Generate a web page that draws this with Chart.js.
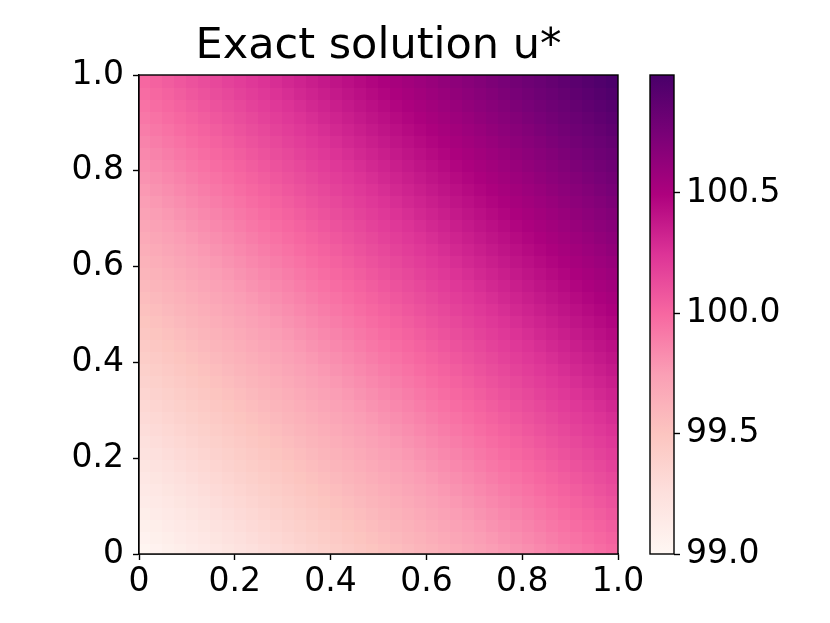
<!DOCTYPE html>
<html><head><meta charset="utf-8">
<script src="https://cdn.jsdelivr.net/npm/chart.js@4/dist/chart.umd.min.js"></script>
<style>html,body{margin:0;padding:0;background:#fff;}#wrap{width:830px;height:623px;position:relative;}</style>
</head><body><div id="wrap"><canvas id="c" width="830" height="623"></canvas></div>
<script>
const titleText = 'Exact solution u*';
const xCenters = [0.0125,0.0375,0.0625,0.0875,0.1125,0.1375,0.1625,0.1875,0.2125,0.2375,0.2625,0.2875,0.3125,0.3375,0.3625,0.3875,0.4125,0.4375,0.4625,0.4875,0.5125,0.5375,0.5625,0.5875,0.6125,0.6375,0.6625,0.6875,0.7125,0.7375,0.7625,0.7875,0.8125,0.8375,0.8625,0.8875,0.9125,0.9375,0.9625,0.9875];
const yCenters = [0.0125,0.0375,0.0625,0.0875,0.1125,0.1375,0.1625,0.1875,0.2125,0.2375,0.2625,0.2875,0.3125,0.3375,0.3625,0.3875,0.4125,0.4375,0.4625,0.4875,0.5125,0.5375,0.5625,0.5875,0.6125,0.6375,0.6625,0.6875,0.7125,0.7375,0.7625,0.7875,0.8125,0.8375,0.8625,0.8875,0.9125,0.9375,0.9625,0.9875];
// rows from bottom (y=0) to top (y=1); columns from x=0 to x=1
const uValues = [
[99.025,99.050,99.075,99.100,99.125,99.150,99.175,99.200,99.225,99.250,99.275,99.300,99.325,99.350,99.375,99.400,99.425,99.450,99.475,99.500,99.525,99.550,99.575,99.600,99.625,99.650,99.675,99.700,99.725,99.750,99.775,99.800,99.825,99.850,99.875,99.900,99.925,99.950,99.975,100.000],
[99.050,99.075,99.100,99.125,99.150,99.175,99.200,99.225,99.250,99.275,99.300,99.325,99.350,99.375,99.400,99.425,99.450,99.475,99.500,99.525,99.550,99.575,99.600,99.625,99.650,99.675,99.700,99.725,99.750,99.775,99.800,99.825,99.850,99.875,99.900,99.925,99.950,99.975,100.000,100.025],
[99.075,99.100,99.125,99.150,99.175,99.200,99.225,99.250,99.275,99.300,99.325,99.350,99.375,99.400,99.425,99.450,99.475,99.500,99.525,99.550,99.575,99.600,99.625,99.650,99.675,99.700,99.725,99.750,99.775,99.800,99.825,99.850,99.875,99.900,99.925,99.950,99.975,100.000,100.025,100.050],
[99.100,99.125,99.150,99.175,99.200,99.225,99.250,99.275,99.300,99.325,99.350,99.375,99.400,99.425,99.450,99.475,99.500,99.525,99.550,99.575,99.600,99.625,99.650,99.675,99.700,99.725,99.750,99.775,99.800,99.825,99.850,99.875,99.900,99.925,99.950,99.975,100.000,100.025,100.050,100.075],
[99.125,99.150,99.175,99.200,99.225,99.250,99.275,99.300,99.325,99.350,99.375,99.400,99.425,99.450,99.475,99.500,99.525,99.550,99.575,99.600,99.625,99.650,99.675,99.700,99.725,99.750,99.775,99.800,99.825,99.850,99.875,99.900,99.925,99.950,99.975,100.000,100.025,100.050,100.075,100.100],
[99.150,99.175,99.200,99.225,99.250,99.275,99.300,99.325,99.350,99.375,99.400,99.425,99.450,99.475,99.500,99.525,99.550,99.575,99.600,99.625,99.650,99.675,99.700,99.725,99.750,99.775,99.800,99.825,99.850,99.875,99.900,99.925,99.950,99.975,100.000,100.025,100.050,100.075,100.100,100.125],
[99.175,99.200,99.225,99.250,99.275,99.300,99.325,99.350,99.375,99.400,99.425,99.450,99.475,99.500,99.525,99.550,99.575,99.600,99.625,99.650,99.675,99.700,99.725,99.750,99.775,99.800,99.825,99.850,99.875,99.900,99.925,99.950,99.975,100.000,100.025,100.050,100.075,100.100,100.125,100.150],
[99.200,99.225,99.250,99.275,99.300,99.325,99.350,99.375,99.400,99.425,99.450,99.475,99.500,99.525,99.550,99.575,99.600,99.625,99.650,99.675,99.700,99.725,99.750,99.775,99.800,99.825,99.850,99.875,99.900,99.925,99.950,99.975,100.000,100.025,100.050,100.075,100.100,100.125,100.150,100.175],
[99.225,99.250,99.275,99.300,99.325,99.350,99.375,99.400,99.425,99.450,99.475,99.500,99.525,99.550,99.575,99.600,99.625,99.650,99.675,99.700,99.725,99.750,99.775,99.800,99.825,99.850,99.875,99.900,99.925,99.950,99.975,100.000,100.025,100.050,100.075,100.100,100.125,100.150,100.175,100.200],
[99.250,99.275,99.300,99.325,99.350,99.375,99.400,99.425,99.450,99.475,99.500,99.525,99.550,99.575,99.600,99.625,99.650,99.675,99.700,99.725,99.750,99.775,99.800,99.825,99.850,99.875,99.900,99.925,99.950,99.975,100.000,100.025,100.050,100.075,100.100,100.125,100.150,100.175,100.200,100.225],
[99.275,99.300,99.325,99.350,99.375,99.400,99.425,99.450,99.475,99.500,99.525,99.550,99.575,99.600,99.625,99.650,99.675,99.700,99.725,99.750,99.775,99.800,99.825,99.850,99.875,99.900,99.925,99.950,99.975,100.000,100.025,100.050,100.075,100.100,100.125,100.150,100.175,100.200,100.225,100.250],
[99.300,99.325,99.350,99.375,99.400,99.425,99.450,99.475,99.500,99.525,99.550,99.575,99.600,99.625,99.650,99.675,99.700,99.725,99.750,99.775,99.800,99.825,99.850,99.875,99.900,99.925,99.950,99.975,100.000,100.025,100.050,100.075,100.100,100.125,100.150,100.175,100.200,100.225,100.250,100.275],
[99.325,99.350,99.375,99.400,99.425,99.450,99.475,99.500,99.525,99.550,99.575,99.600,99.625,99.650,99.675,99.700,99.725,99.750,99.775,99.800,99.825,99.850,99.875,99.900,99.925,99.950,99.975,100.000,100.025,100.050,100.075,100.100,100.125,100.150,100.175,100.200,100.225,100.250,100.275,100.300],
[99.350,99.375,99.400,99.425,99.450,99.475,99.500,99.525,99.550,99.575,99.600,99.625,99.650,99.675,99.700,99.725,99.750,99.775,99.800,99.825,99.850,99.875,99.900,99.925,99.950,99.975,100.000,100.025,100.050,100.075,100.100,100.125,100.150,100.175,100.200,100.225,100.250,100.275,100.300,100.325],
[99.375,99.400,99.425,99.450,99.475,99.500,99.525,99.550,99.575,99.600,99.625,99.650,99.675,99.700,99.725,99.750,99.775,99.800,99.825,99.850,99.875,99.900,99.925,99.950,99.975,100.000,100.025,100.050,100.075,100.100,100.125,100.150,100.175,100.200,100.225,100.250,100.275,100.300,100.325,100.350],
[99.400,99.425,99.450,99.475,99.500,99.525,99.550,99.575,99.600,99.625,99.650,99.675,99.700,99.725,99.750,99.775,99.800,99.825,99.850,99.875,99.900,99.925,99.950,99.975,100.000,100.025,100.050,100.075,100.100,100.125,100.150,100.175,100.200,100.225,100.250,100.275,100.300,100.325,100.350,100.375],
[99.425,99.450,99.475,99.500,99.525,99.550,99.575,99.600,99.625,99.650,99.675,99.700,99.725,99.750,99.775,99.800,99.825,99.850,99.875,99.900,99.925,99.950,99.975,100.000,100.025,100.050,100.075,100.100,100.125,100.150,100.175,100.200,100.225,100.250,100.275,100.300,100.325,100.350,100.375,100.400],
[99.450,99.475,99.500,99.525,99.550,99.575,99.600,99.625,99.650,99.675,99.700,99.725,99.750,99.775,99.800,99.825,99.850,99.875,99.900,99.925,99.950,99.975,100.000,100.025,100.050,100.075,100.100,100.125,100.150,100.175,100.200,100.225,100.250,100.275,100.300,100.325,100.350,100.375,100.400,100.425],
[99.475,99.500,99.525,99.550,99.575,99.600,99.625,99.650,99.675,99.700,99.725,99.750,99.775,99.800,99.825,99.850,99.875,99.900,99.925,99.950,99.975,100.000,100.025,100.050,100.075,100.100,100.125,100.150,100.175,100.200,100.225,100.250,100.275,100.300,100.325,100.350,100.375,100.400,100.425,100.450],
[99.500,99.525,99.550,99.575,99.600,99.625,99.650,99.675,99.700,99.725,99.750,99.775,99.800,99.825,99.850,99.875,99.900,99.925,99.950,99.975,100.000,100.025,100.050,100.075,100.100,100.125,100.150,100.175,100.200,100.225,100.250,100.275,100.300,100.325,100.350,100.375,100.400,100.425,100.450,100.475],
[99.525,99.550,99.575,99.600,99.625,99.650,99.675,99.700,99.725,99.750,99.775,99.800,99.825,99.850,99.875,99.900,99.925,99.950,99.975,100.000,100.025,100.050,100.075,100.100,100.125,100.150,100.175,100.200,100.225,100.250,100.275,100.300,100.325,100.350,100.375,100.400,100.425,100.450,100.475,100.500],
[99.550,99.575,99.600,99.625,99.650,99.675,99.700,99.725,99.750,99.775,99.800,99.825,99.850,99.875,99.900,99.925,99.950,99.975,100.000,100.025,100.050,100.075,100.100,100.125,100.150,100.175,100.200,100.225,100.250,100.275,100.300,100.325,100.350,100.375,100.400,100.425,100.450,100.475,100.500,100.525],
[99.575,99.600,99.625,99.650,99.675,99.700,99.725,99.750,99.775,99.800,99.825,99.850,99.875,99.900,99.925,99.950,99.975,100.000,100.025,100.050,100.075,100.100,100.125,100.150,100.175,100.200,100.225,100.250,100.275,100.300,100.325,100.350,100.375,100.400,100.425,100.450,100.475,100.500,100.525,100.550],
[99.600,99.625,99.650,99.675,99.700,99.725,99.750,99.775,99.800,99.825,99.850,99.875,99.900,99.925,99.950,99.975,100.000,100.025,100.050,100.075,100.100,100.125,100.150,100.175,100.200,100.225,100.250,100.275,100.300,100.325,100.350,100.375,100.400,100.425,100.450,100.475,100.500,100.525,100.550,100.575],
[99.625,99.650,99.675,99.700,99.725,99.750,99.775,99.800,99.825,99.850,99.875,99.900,99.925,99.950,99.975,100.000,100.025,100.050,100.075,100.100,100.125,100.150,100.175,100.200,100.225,100.250,100.275,100.300,100.325,100.350,100.375,100.400,100.425,100.450,100.475,100.500,100.525,100.550,100.575,100.600],
[99.650,99.675,99.700,99.725,99.750,99.775,99.800,99.825,99.850,99.875,99.900,99.925,99.950,99.975,100.000,100.025,100.050,100.075,100.100,100.125,100.150,100.175,100.200,100.225,100.250,100.275,100.300,100.325,100.350,100.375,100.400,100.425,100.450,100.475,100.500,100.525,100.550,100.575,100.600,100.625],
[99.675,99.700,99.725,99.750,99.775,99.800,99.825,99.850,99.875,99.900,99.925,99.950,99.975,100.000,100.025,100.050,100.075,100.100,100.125,100.150,100.175,100.200,100.225,100.250,100.275,100.300,100.325,100.350,100.375,100.400,100.425,100.450,100.475,100.500,100.525,100.550,100.575,100.600,100.625,100.650],
[99.700,99.725,99.750,99.775,99.800,99.825,99.850,99.875,99.900,99.925,99.950,99.975,100.000,100.025,100.050,100.075,100.100,100.125,100.150,100.175,100.200,100.225,100.250,100.275,100.300,100.325,100.350,100.375,100.400,100.425,100.450,100.475,100.500,100.525,100.550,100.575,100.600,100.625,100.650,100.675],
[99.725,99.750,99.775,99.800,99.825,99.850,99.875,99.900,99.925,99.950,99.975,100.000,100.025,100.050,100.075,100.100,100.125,100.150,100.175,100.200,100.225,100.250,100.275,100.300,100.325,100.350,100.375,100.400,100.425,100.450,100.475,100.500,100.525,100.550,100.575,100.600,100.625,100.650,100.675,100.700],
[99.750,99.775,99.800,99.825,99.850,99.875,99.900,99.925,99.950,99.975,100.000,100.025,100.050,100.075,100.100,100.125,100.150,100.175,100.200,100.225,100.250,100.275,100.300,100.325,100.350,100.375,100.400,100.425,100.450,100.475,100.500,100.525,100.550,100.575,100.600,100.625,100.650,100.675,100.700,100.725],
[99.775,99.800,99.825,99.850,99.875,99.900,99.925,99.950,99.975,100.000,100.025,100.050,100.075,100.100,100.125,100.150,100.175,100.200,100.225,100.250,100.275,100.300,100.325,100.350,100.375,100.400,100.425,100.450,100.475,100.500,100.525,100.550,100.575,100.600,100.625,100.650,100.675,100.700,100.725,100.750],
[99.800,99.825,99.850,99.875,99.900,99.925,99.950,99.975,100.000,100.025,100.050,100.075,100.100,100.125,100.150,100.175,100.200,100.225,100.250,100.275,100.300,100.325,100.350,100.375,100.400,100.425,100.450,100.475,100.500,100.525,100.550,100.575,100.600,100.625,100.650,100.675,100.700,100.725,100.750,100.775],
[99.825,99.850,99.875,99.900,99.925,99.950,99.975,100.000,100.025,100.050,100.075,100.100,100.125,100.150,100.175,100.200,100.225,100.250,100.275,100.300,100.325,100.350,100.375,100.400,100.425,100.450,100.475,100.500,100.525,100.550,100.575,100.600,100.625,100.650,100.675,100.700,100.725,100.750,100.775,100.800],
[99.850,99.875,99.900,99.925,99.950,99.975,100.000,100.025,100.050,100.075,100.100,100.125,100.150,100.175,100.200,100.225,100.250,100.275,100.300,100.325,100.350,100.375,100.400,100.425,100.450,100.475,100.500,100.525,100.550,100.575,100.600,100.625,100.650,100.675,100.700,100.725,100.750,100.775,100.800,100.825],
[99.875,99.900,99.925,99.950,99.975,100.000,100.025,100.050,100.075,100.100,100.125,100.150,100.175,100.200,100.225,100.250,100.275,100.300,100.325,100.350,100.375,100.400,100.425,100.450,100.475,100.500,100.525,100.550,100.575,100.600,100.625,100.650,100.675,100.700,100.725,100.750,100.775,100.800,100.825,100.850],
[99.900,99.925,99.950,99.975,100.000,100.025,100.050,100.075,100.100,100.125,100.150,100.175,100.200,100.225,100.250,100.275,100.300,100.325,100.350,100.375,100.400,100.425,100.450,100.475,100.500,100.525,100.550,100.575,100.600,100.625,100.650,100.675,100.700,100.725,100.750,100.775,100.800,100.825,100.850,100.875],
[99.925,99.950,99.975,100.000,100.025,100.050,100.075,100.100,100.125,100.150,100.175,100.200,100.225,100.250,100.275,100.300,100.325,100.350,100.375,100.400,100.425,100.450,100.475,100.500,100.525,100.550,100.575,100.600,100.625,100.650,100.675,100.700,100.725,100.750,100.775,100.800,100.825,100.850,100.875,100.900],
[99.950,99.975,100.000,100.025,100.050,100.075,100.100,100.125,100.150,100.175,100.200,100.225,100.250,100.275,100.300,100.325,100.350,100.375,100.400,100.425,100.450,100.475,100.500,100.525,100.550,100.575,100.600,100.625,100.650,100.675,100.700,100.725,100.750,100.775,100.800,100.825,100.850,100.875,100.900,100.925],
[99.975,100.000,100.025,100.050,100.075,100.100,100.125,100.150,100.175,100.200,100.225,100.250,100.275,100.300,100.325,100.350,100.375,100.400,100.425,100.450,100.475,100.500,100.525,100.550,100.575,100.600,100.625,100.650,100.675,100.700,100.725,100.750,100.775,100.800,100.825,100.850,100.875,100.900,100.925,100.950],
[100.000,100.025,100.050,100.075,100.100,100.125,100.150,100.175,100.200,100.225,100.250,100.275,100.300,100.325,100.350,100.375,100.400,100.425,100.450,100.475,100.500,100.525,100.550,100.575,100.600,100.625,100.650,100.675,100.700,100.725,100.750,100.775,100.800,100.825,100.850,100.875,100.900,100.925,100.950,100.975]
];
const axisTicks = [0, 0.2, 0.4, 0.6, 0.8, 1.0];
const axisTickLabels = ['0', '0.2', '0.4', '0.6', '0.8', '1.0'];
const cbTicks = [99.0, 99.5, 100.0, 100.5];
const cbTickLabels = ['99.0', '99.5', '100.0', '100.5'];
const cbMin = 99.0, cbMax = 100.99;
const rdpuStops = ['#fff7f3','#fde0dd','#fcc5c0','#fa9fb5','#f768a1','#dd3497','#ae017e','#7a0177','#49006a'];

const FONT = 'DejaVu Sans';
const TICK_SIZE = 33;
const TITLE_SIZE = 43;

function hexToRgb(h){return [parseInt(h.slice(1,3),16),parseInt(h.slice(3,5),16),parseInt(h.slice(5,7),16)];}
const stopRgb = rdpuStops.map(hexToRgb);
function cmap(v){
  let t = (v - cbMin) / (cbMax - cbMin);
  t = Math.max(0, Math.min(1, t));
  const n = stopRgb.length - 1;
  const p = t * n;
  const i = Math.min(n - 1, Math.floor(p));
  const f = p - i;
  const a = stopRgb[i], b = stopRgb[i+1];
  return 'rgb(' + [0,1,2].map(k => Math.round(a[k] + (b[k]-a[k])*f)).join(',') + ')';
}

const points = [];
for (let j = 0; j < yCenters.length; j++) {
  for (let i = 0; i < xCenters.length; i++) {
    points.push({x: xCenters[i], y: yCenters[j], v: uValues[j][i]});
  }
}
const dx = xCenters[1] - xCenters[0];
const dy = yCenters[1] - yCenters[0];

const heatmapPlugin = {
  id: 'heatmap',
  beforeDatasetsDraw(chart) {
    const {ctx, chartArea, scales} = chart;
    const xs = scales.x, ys = scales.y;
    ctx.save();
    ctx.beginPath();
    ctx.rect(chartArea.left, chartArea.top, chartArea.right - chartArea.left, chartArea.bottom - chartArea.top);
    ctx.clip();
    const data = chart.data.datasets[0].data;
    for (const d of data) {
      const l = xs.getPixelForValue(d.x - dx/2), r = xs.getPixelForValue(d.x + dx/2);
      const t = ys.getPixelForValue(d.y + dy/2), b = ys.getPixelForValue(d.y - dy/2);
      ctx.fillStyle = cmap(d.v);
      ctx.fillRect(Math.floor(l), Math.floor(t), Math.ceil(r) - Math.floor(l) + 1, Math.ceil(b) - Math.floor(t) + 1);
    }
    ctx.restore();
  },
  afterDraw(chart) {
    const {ctx, chartArea, scales} = chart;
    ctx.save();
    ctx.strokeStyle = '#000';
    ctx.lineWidth = 1.4;
    ctx.strokeRect(chartArea.left, chartArea.top, chartArea.right - chartArea.left, chartArea.bottom - chartArea.top);
    const cb = scales.cb;
    const cbRight = cb.left;
    const cbLeft = cbRight - 24;
    const yTop = cb.getPixelForValue(cbMax), yBot = cb.getPixelForValue(cbMin);
    const g = ctx.createLinearGradient(0, yBot, 0, yTop);
    rdpuStops.forEach((c, k) => g.addColorStop(k / (rdpuStops.length - 1), c));
    ctx.fillStyle = g;
    ctx.fillRect(cbLeft, yTop, cbRight - cbLeft, yBot - yTop);
    ctx.strokeRect(cbLeft, yTop, cbRight - cbLeft, yBot - yTop);
    ctx.restore();
  }
};

const tickFont = {family: FONT, size: TICK_SIZE};
new Chart(document.getElementById('c'), {
  type: 'scatter',
  data: {datasets: [{data: points, pointRadius: 0, pointHoverRadius: 0, showLine: false}]},
  options: {
    responsive: false,
    animation: false,
    events: [],
    layout: {padding: {left: 50, right: 36, top: 0, bottom: 9}},
    plugins: {
      legend: {display: false},
      tooltip: {enabled: false},
      title: {display: true, fullSize: false, text: titleText, color: '#000', font: {family: FONT, size: TITLE_SIZE, weight: 'normal', lineHeight: 1.2}, padding: {top: 21, bottom: 2.4}}
    },
    scales: {
      x: {
        type: 'linear', position: 'bottom', min: 0, max: 1,
        afterBuildTicks: s => { s.ticks = axisTicks.map(v => ({value: v})); },
        ticks: {callback: (v, i) => axisTickLabels[i], font: tickFont, color: '#000', padding: 3, maxRotation: 0, autoSkip: false},
        grid: {drawOnChartArea: false, tickLength: 6, tickWidth: 1.4, tickColor: '#000'},
        border: {display: true, color: '#000', width: 1.4},
        afterFit: s => { s.height = 60; }
      },
      y: {
        type: 'linear', position: 'left', min: 0, max: 1,
        afterBuildTicks: s => { s.ticks = axisTicks.map(v => ({value: v})); },
        ticks: {callback: (v, i) => axisTickLabels[i], font: tickFont, color: '#000', padding: 9, autoSkip: false},
        grid: {drawOnChartArea: false, tickLength: 6, tickWidth: 1.4, tickColor: '#000'},
        border: {display: true, color: '#000', width: 1.4},
        afterFit: s => { s.width = 89; }
      },
      sp: {
        type: 'linear', position: 'right', min: 0, max: 1, display: true,
        ticks: {display: false}, grid: {display: false}, border: {display: false},
        afterFit: s => { s.width = 56; }
      },
      cb: {
        type: 'linear', position: 'right', min: cbMin, max: cbMax,
        afterBuildTicks: s => { s.ticks = cbTicks.map(v => ({value: v})); },
        ticks: {callback: (v, i) => cbTickLabels[i], font: tickFont, color: '#000', padding: 6, autoSkip: false},
        grid: {drawOnChartArea: false, tickLength: 6, tickWidth: 1.4, tickColor: '#000'},
        border: {display: false},
        afterFit: s => { s.width = 120; }
      }
    }
  },
  plugins: [heatmapPlugin]
});
</script>
</body></html>
